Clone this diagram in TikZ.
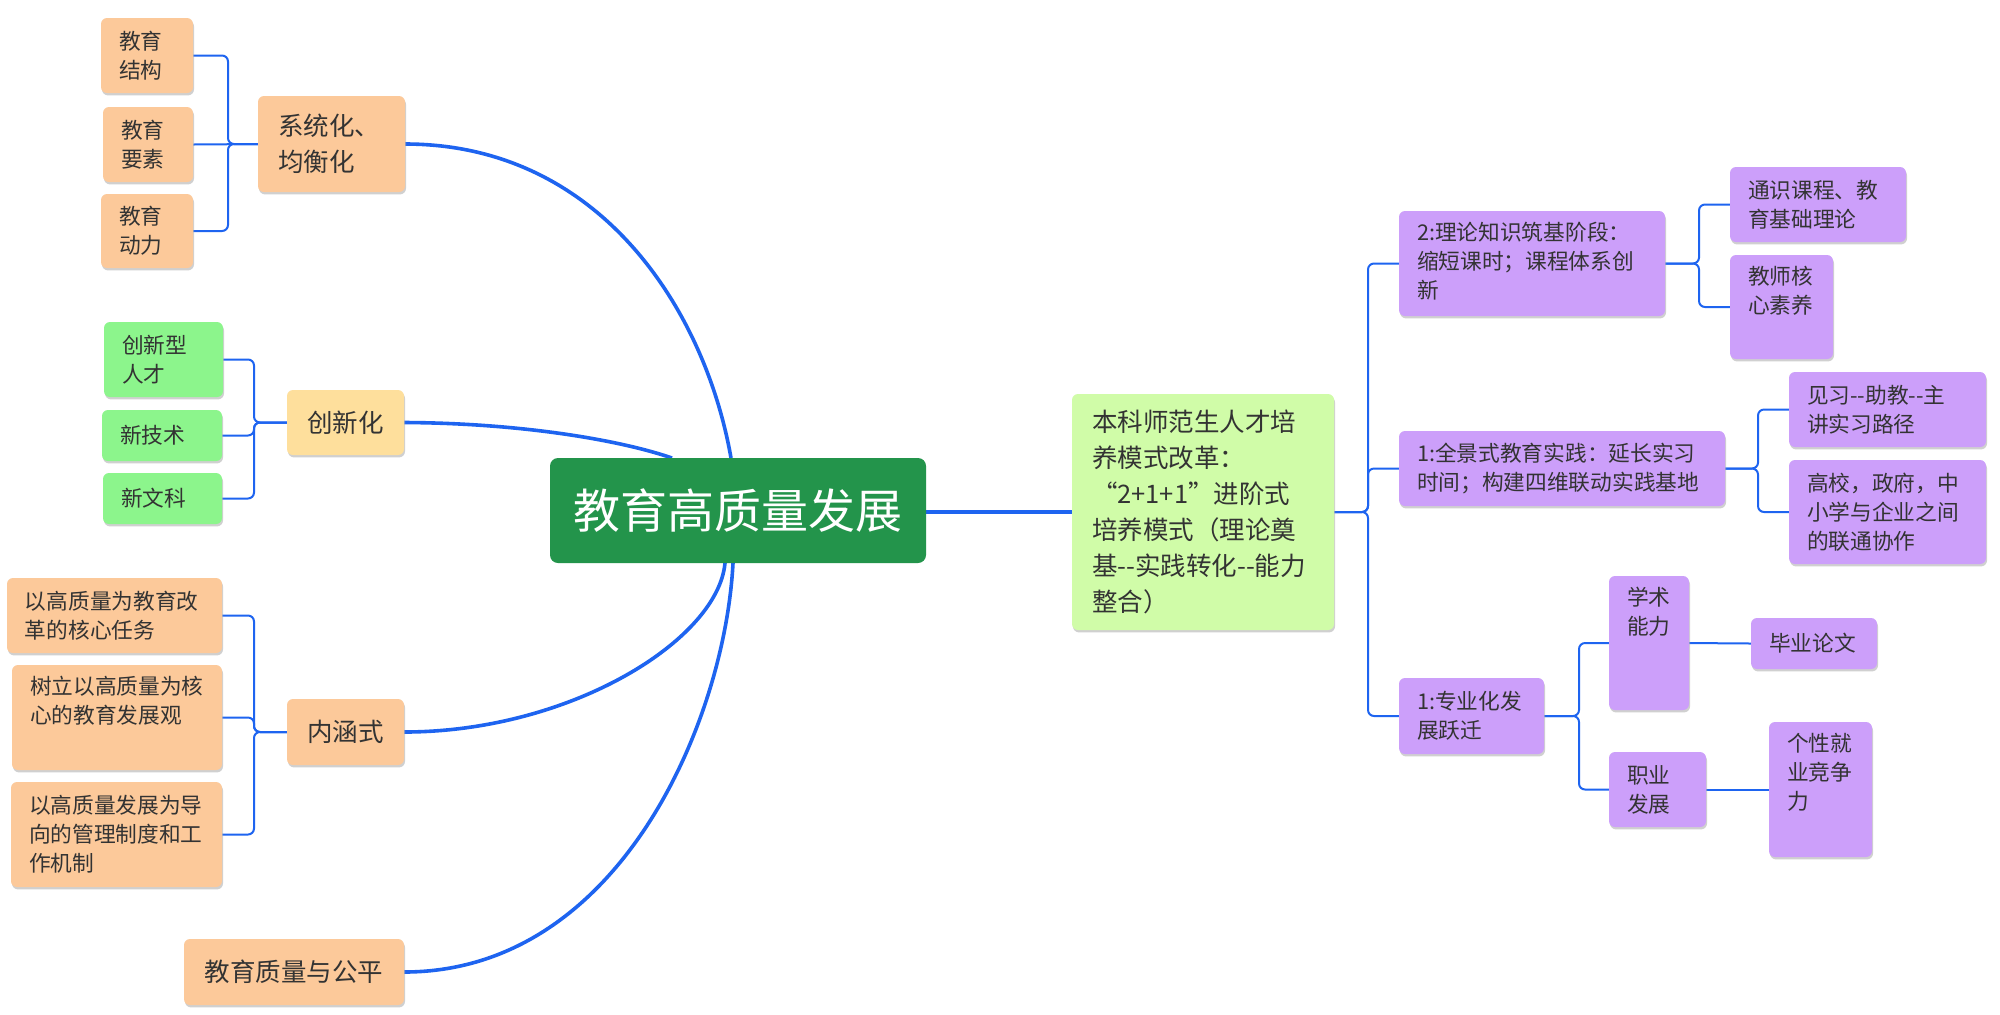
\documentclass[tikz,border=0pt]{standalone}
\usepackage{fontspec}
\setmainfont{Noto Sans CJK SC}
\usetikzlibrary{shadows,backgrounds,calc}
\definecolor{peach}{HTML}{FCC99A}
\definecolor{ylw}{HTML}{FEDF9C}
\definecolor{lgreen}{HTML}{8CF58C}
\definecolor{rootg}{HTML}{23944B}
\definecolor{pale}{HTML}{D0FCA8}
\definecolor{purp}{HTML}{CC9FFA}
\definecolor{lineb}{HTML}{1E64F0}
\definecolor{txt}{HTML}{333333}
\tikzset{
  bx/.style={rounded corners=3pt, anchor=north west, outer sep=0pt, inner xsep=9pt, inner ysep=5.5pt,
    text=txt, drop shadow={shadow xshift=0.5pt,shadow yshift=-1.2pt,fill=black!30,opacity=0.6}},
  sm/.style={font=\fontsize{10.85pt}{14.5pt}\selectfont},
  lg/.style={font=\fontsize{12.75pt}{18pt}\selectfont},
  mainln/.style={draw=lineb, line width=1.8pt},
  brln/.style={draw=lineb, line width=1pt, rounded corners=3pt},
}
\begin{document}
\begin{tikzpicture}[x=0.5pt,y=-0.5pt]
\useasboundingbox (0,0) rectangle (2000,1014);
% root
\node[fill=rootg, rounded corners=4pt, anchor=north west, outer sep=0pt, minimum width=188pt, minimum height=52.5pt,
  text=white, font=\fontsize{23.5pt}{28pt}\selectfont] (root) at (550,458) {教育高质量发展};
% left: 系统化
\node[bx, fill=peach, lg, inner xsep=10pt, align=left, minimum width=73.5pt, minimum height=48pt, text width=53.5pt] (a) at (258,96) {系统化、\\均衡化};
\node[bx, fill=peach, sm, align=left, minimum width=46pt, minimum height=37.5pt, text width=28pt] (a1) at (101,18) {教育\\结构};
\node[bx, fill=peach, sm, align=left, minimum width=45pt, minimum height=37.5pt, text width=27pt] (a2) at (103,107) {教育\\要素};
\node[bx, fill=peach, sm, align=left, minimum width=46pt, minimum height=37pt, text width=28pt] (a3) at (101,194) {教育\\动力};
% 创新化
\node[bx, fill=ylw, lg, align=center, minimum width=58.5pt, minimum height=32.5pt] (b) at (287,390) {创新化};
\node[bx, fill=lgreen, sm, align=left, minimum width=59.5pt, minimum height=37.5pt, text width=41.5pt] (b1) at (104,322) {创新型\\人才};
\node[bx, fill=lgreen, sm, align=left, minimum width=60pt, minimum height=25.5pt, text width=42pt] (b2) at (102,410) {新技术};
\node[bx, fill=lgreen, sm, align=left, minimum width=59.5pt, minimum height=25.5pt, text width=41.5pt] (b3) at (103,473) {新文科};
% 内涵式
\node[bx, fill=peach, lg, align=center, minimum width=58.5pt, minimum height=33pt] (c) at (287,699) {内涵式};
\node[bx, fill=peach, sm, align=left, minimum width=107.5pt, minimum height=37.5pt, text width=89.5pt] (c1) at (7,578) {以高质量为教育改\\革的核心任务};
\node[bx, fill=peach, sm, minimum width=105pt, minimum height=52.5pt] (c2) at (12,665) {\parbox[c][41.5pt][t]{87pt}{树立以高质量为核\\心的教育发展观}};
\node[bx, fill=peach, sm, align=left, minimum width=105.5pt, minimum height=52.5pt, text width=87.5pt] (c3) at (11,782) {以高质量发展为导\\向的管理制度和工\\作机制};
% 教育质量与公平
\node[bx, fill=peach, lg, align=center, minimum width=110pt, minimum height=33pt] (d) at (184,939) {教育质量与公平};
% right
\node[bx, fill=pale, lg, inner xsep=10pt, align=left, minimum width=131pt, minimum height=118pt, text width=111pt] (g) at (1072,394)
  {本科师范生人才培\\养模式改革：\\“2+1+1”进阶式\\培养模式（理论奠\\基-{}-实践转化-{}-能力\\整合）};
\node[bx, fill=purp, sm, minimum width=133pt, minimum height=52.5pt] (p2) at (1399,211) {\parbox[c][41.5pt][t]{115pt}{2:理论知识筑基阶段：\\缩短课时；课程体系创\\新}};
\node[bx, fill=purp, sm, align=left, minimum width=163pt, minimum height=37.5pt, text width=145pt] (p1) at (1399,431) {1:全景式教育实践：延长实习\\时间；构建四维联动实践基地};
\node[bx, fill=purp, sm, align=left, minimum width=72.5pt, minimum height=38pt, text width=54.5pt] (p3) at (1399,678) {1:专业化发\\展跃迁};
\node[bx, fill=purp, sm, align=left, minimum width=88pt, minimum height=37.5pt, text width=70pt] (q1) at (1730,167) {通识课程、教\\育基础理论};
\node[bx, fill=purp, sm, minimum width=51.5pt, minimum height=52pt] (q2) at (1730,255) {\parbox[c][41pt][t]{33.5pt}{教师核\\心素养}};
\node[bx, fill=purp, sm, align=left, minimum width=98.5pt, minimum height=37.5pt, text width=80.5pt] (s1) at (1789,372) {见习-{}-助教-{}-主\\讲实习路径};
\node[bx, fill=purp, sm, align=left, minimum width=98.5pt, minimum height=52pt, text width=80.5pt] (s2) at (1789,460) {高校，政府，中\\小学与企业之间\\的联通协作};
\node[bx, fill=purp, sm, minimum width=39pt, minimum height=67pt] (t1) at (1609,576) {\parbox[c][56pt][t]{22pt}{学术\\能力}};
\node[bx, fill=purp, sm, align=left, minimum width=48.5pt, minimum height=37.5pt, text width=30.5pt] (t2) at (1609,752) {职业\\发展};
\node[bx, fill=purp, sm, align=left, minimum width=63pt, minimum height=25.5pt, text width=45pt] (u1) at (1751,618) {毕业论文};
\node[bx, fill=purp, sm, minimum width=51.5pt, minimum height=67.5pt] (u2) at (1769,722) {\parbox[c][56.5pt][t]{33.5pt}{个性就\\业竞争\\力}};
% anchor points on root
\coordinate (rt1) at ($(root.north)+(-7,0)$);
\coordinate (rt2) at ($(root.north)+(-66,0)$);
\coordinate (rb1) at ($(root.south)+(-13,0)$);
\coordinate (rb2) at ($(root.south)+(-5,0)$);
\coordinate (re) at (root.east |- g.west);
\begin{pgfonlayer}{background}
\fill[white] (0,0) rectangle (2000,1014);
\draw[mainln] (a.east) .. controls (600,144) and (705,310) .. (rt1);
\draw[mainln] (b.east) .. controls (520,423) and (620,440) .. (rt2);
\draw[mainln] (c.east) .. controls (570,732) and (718,640) .. (rb1);
\draw[mainln] (d.east) .. controls (620,972) and (725,720) .. (rb2);
\draw[mainln] (re) -- (g.west);
\draw[brln] (a.west) -- ++(-30,0) |- (a1.east);
\draw[brln] (a.west) -- (a2.east);
\draw[brln] (a.west) -- ++(-30,0) |- (a3.east);
\draw[brln] (b.west) -- ++(-33,0) |- (b1.east);
\draw[brln] (b.west) -- ++(-33,0) |- (b2.east);
\draw[brln] (b.west) -- ++(-33,0) |- (b3.east);
\draw[brln] (c.west) -- ++(-33,0) |- (c1.east);
\draw[brln] (c.west) -- ++(-33,0) |- (c2.east);
\draw[brln] (c.west) -- ++(-33,0) |- (c3.east);
\draw[brln] (g.east) -- ++(34,0) |- (p2.west);
\draw[brln] (g.east) -- ++(34,0) |- (p1.west);
\draw[brln] (g.east) -- ++(34,0) |- (p3.west);
\draw[brln] (p2.east) -- ++(34,0) |- (q1.west);
\draw[brln] (p2.east) -- ++(34,0) |- (q2.west);
\draw[brln] (p1.east) -- ++(33,0) |- (s1.west);
\draw[brln] (p1.east) -- ++(33,0) |- (s2.west);
\draw[brln] (p3.east) -- ++(35,0) |- (t1.west);
\draw[brln] (p3.east) -- ++(35,0) |- (t2.west);
\draw[brln] (t1.east) -- (u1.west);
\draw[brln] (t2.east) -- (u2.west);
\end{pgfonlayer}
\end{tikzpicture}
\end{document}
